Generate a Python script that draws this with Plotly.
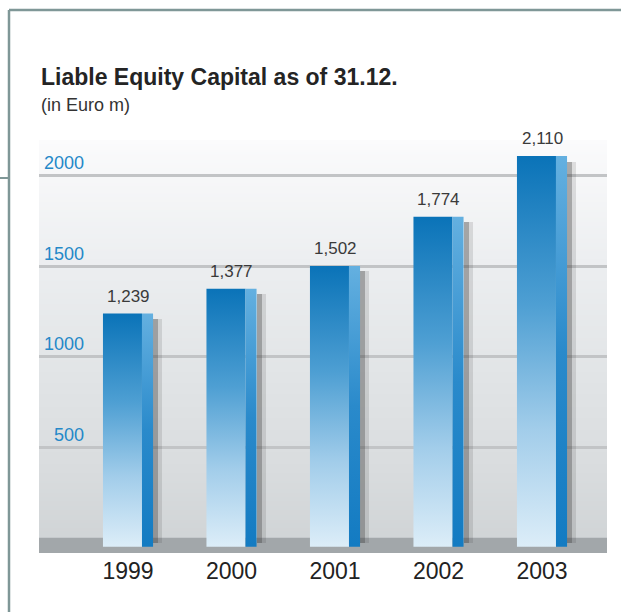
import base64
import struct
import zlib

import plotly.graph_objects as go

# ---- data -------------------------------------------------------------
years = ["1999", "2000", "2001", "2002", "2003"]
capital = [1239, 1377, 1502, 1774, 2110]          # Euro m, as of 31.12.
y_ticks = [500, 1000, 1500, 2000]

# ---- geometry (pixels on a 621 x 612 canvas) -------------------------
W, H = 621, 612
PLOT_L, PLOT_R = 39, 607
PLOT_T, PLOT_B = 140, 553
Y_RANGE = [-85, 2199]
X_RANGE = [-0.86, 4.628]

FRONT = (-0.242, 0.135)     # front face of each column (category units)
SIDE = (0.135, 0.242)       # lit side face
FLOOR = -50                 # columns sink slightly into the floor band

FRAME = "#7f9797"
BLUE_TEXT = "#2488c8"


def gradient_png(stops, rows=256):
    """1-pixel-wide vertical gradient PNG (top -> bottom) as a data URI."""
    def lerp(a, b, t):
        return round(a + (b - a) * t)

    def hex2rgb(h):
        h = h.lstrip("#")
        return tuple(int(h[k:k + 2], 16) for k in (0, 2, 4))

    stops = [(p, hex2rgb(c)) for p, c in stops]
    raw = b""
    for r in range(rows):
        t = r / (rows - 1)
        for (p0, c0), (p1, c1) in zip(stops, stops[1:]):
            if p0 <= t <= p1:
                u = (t - p0) / (p1 - p0) if p1 > p0 else 0
                rgb = tuple(lerp(c0[k], c1[k], u) for k in range(3))
                break
        raw += b"\x00" + bytes(rgb)

    def chunk(tag, data):
        c = struct.pack(">I", len(data)) + tag + data
        return c + struct.pack(">I", zlib.crc32(tag + data) & 0xFFFFFFFF)

    png = b"\x89PNG\r\n\x1a\n"
    png += chunk(b"IHDR", struct.pack(">IIBBBBB", 1, rows, 8, 2, 0, 0, 0))
    png += chunk(b"IDAT", zlib.compress(raw))
    png += chunk(b"IEND", b"")
    return "data:image/png;base64," + base64.b64encode(png).decode()


fig = go.Figure()

idx = list(range(len(years)))

# soft drop shadow to the right of each column
fig.add_trace(go.Bar(x=idx, y=capital, base=FLOOR * 0.6, offset=SIDE[1], width=0.09,
                     marker=dict(color="rgba(60,60,60,0.14)", line=dict(width=0)),
                     hoverinfo="skip", showlegend=False))
fig.add_trace(go.Bar(x=idx, y=capital, base=FLOOR * 0.6, offset=SIDE[1], width=0.05,
                     marker=dict(color="rgba(60,60,60,0.32)", line=dict(width=0)),
                     hoverinfo="skip", showlegend=False))

# column faces with vertical gradients
for i, v in zip(idx, capital):
    x0, x1 = i + FRONT[0], i + FRONT[1]
    fig.add_trace(go.Scatter(
        x=[x0, x1, x1, x0, x0], y=[FLOOR, FLOOR, v, v, FLOOR],
        mode="lines", line=dict(width=0), fill="toself",
        fillgradient=dict(type="vertical",
                          colorscale=[[0.0, "#dcedf8"], [0.3, "#a2cdea"],
                                      [0.62, "#4e9fd3"], [1.0, "#0a73b8"]]),
        hoverinfo="skip", showlegend=False))
    s0, s1 = i + SIDE[0], i + SIDE[1]
    fig.add_trace(go.Scatter(
        x=[s0, s1, s1, s0, s0], y=[FLOOR, FLOOR, v, v, FLOOR],
        mode="lines", line=dict(width=0), fill="toself",
        fillgradient=dict(type="vertical",
                          colorscale=[[0.0, "#137bc2"], [0.5, "#2a8acb"],
                                      [1.0, "#64b0e0"]]),
        hoverinfo="skip", showlegend=False))

annotations = []

# value labels above the columns
for i, v in zip(idx, capital):
    annotations.append(dict(x=i, y=v, xref="x", yref="y", text=f"{v:,}",
                            showarrow=False, yanchor="bottom", yshift=6,
                            font=dict(family="Liberation Sans", size=17, color="#3a3a3a")))

# value-axis labels sit just above their grid lines
for t in y_ticks:
    annotations.append(dict(x=86 / W, y=t, xref="paper", yref="y", text=str(t),
                            showarrow=False, xanchor="right", yanchor="middle", yshift=12.5,
                            font=dict(family="Liberation Sans", size=18, color=BLUE_TEXT)))

# heading
annotations.append(dict(x=PLOT_L / W, y=1 - 77 / H, xref="paper", yref="paper",
                        text="Liable Equity Capital as of 31.12.", showarrow=False,
                        xanchor="left", yanchor="middle",
                        font=dict(family="Liberation Sans", size=23, color="#242424",
                                  weight="bold")))
annotations.append(dict(x=PLOT_L / W, y=1 - 105 / H, xref="paper", yref="paper",
                        text="(in Euro m)", showarrow=False,
                        xanchor="left", yanchor="middle",
                        font=dict(family="Liberation Sans", size=18, color="#333333")))

shapes = [
    # floor band
    dict(type="rect", xref="paper", yref="y", x0=PLOT_L / W, x1=PLOT_R / W,
         y0=Y_RANGE[0], y1=0, fillcolor="#a2a7aa", line=dict(width=0), layer="below"),
    # frame
    dict(type="line", xref="paper", yref="paper", x0=9 / W, x1=9 / W, y0=0, y1=1 - 10 / H,
         line=dict(color=FRAME, width=2.5)),
    dict(type="line", xref="paper", yref="paper", x0=9 / W, x1=1, y0=1 - 10 / H, y1=1 - 10 / H,
         line=dict(color=FRAME, width=2.5)),
    dict(type="line", xref="paper", yref="paper", x0=0, x1=9 / W, y0=1 - 178 / H, y1=1 - 178 / H,
         line=dict(color=FRAME, width=2)),
]

images = [dict(
    source=gradient_png([(0.0, "#fbfbfc"), (0.3, "#eceef0"), (0.55, "#e2e5e7"),
                         (0.8, "#d9dcde"), (1.0, "#cfd3d5")]),
    xref="paper", yref="paper", x=PLOT_L / W, y=1 - PLOT_T / H,
    sizex=(PLOT_R - PLOT_L) / W, sizey=(PLOT_B - PLOT_T) / H,
    sizing="stretch", xanchor="left", yanchor="top", layer="below")]

fig.update_layout(
    width=W, height=H,
    margin=dict(l=0, r=0, t=0, b=0),
    paper_bgcolor="white", plot_bgcolor="rgba(0,0,0,0)",
    barmode="overlay", bargap=0,
    showlegend=False,
    xaxis=dict(domain=[PLOT_L / W, PLOT_R / W], range=X_RANGE,
               tickvals=idx, ticktext=years, showgrid=False, zeroline=False,
               showline=False, ticks="", ticklabelstandoff=2,
               tickfont=dict(family="Liberation Sans", size=23, color="#222222"),
               fixedrange=True),
    yaxis=dict(domain=[1 - PLOT_B / H, 1 - PLOT_T / H], range=Y_RANGE,
               tickvals=y_ticks, showticklabels=False, showgrid=True,
               gridcolor="#c2c4c6", gridwidth=3, zeroline=False, showline=False,
               ticks="", fixedrange=True),
    annotations=annotations, shapes=shapes, images=images,
)

fig.write_html("out.html")
